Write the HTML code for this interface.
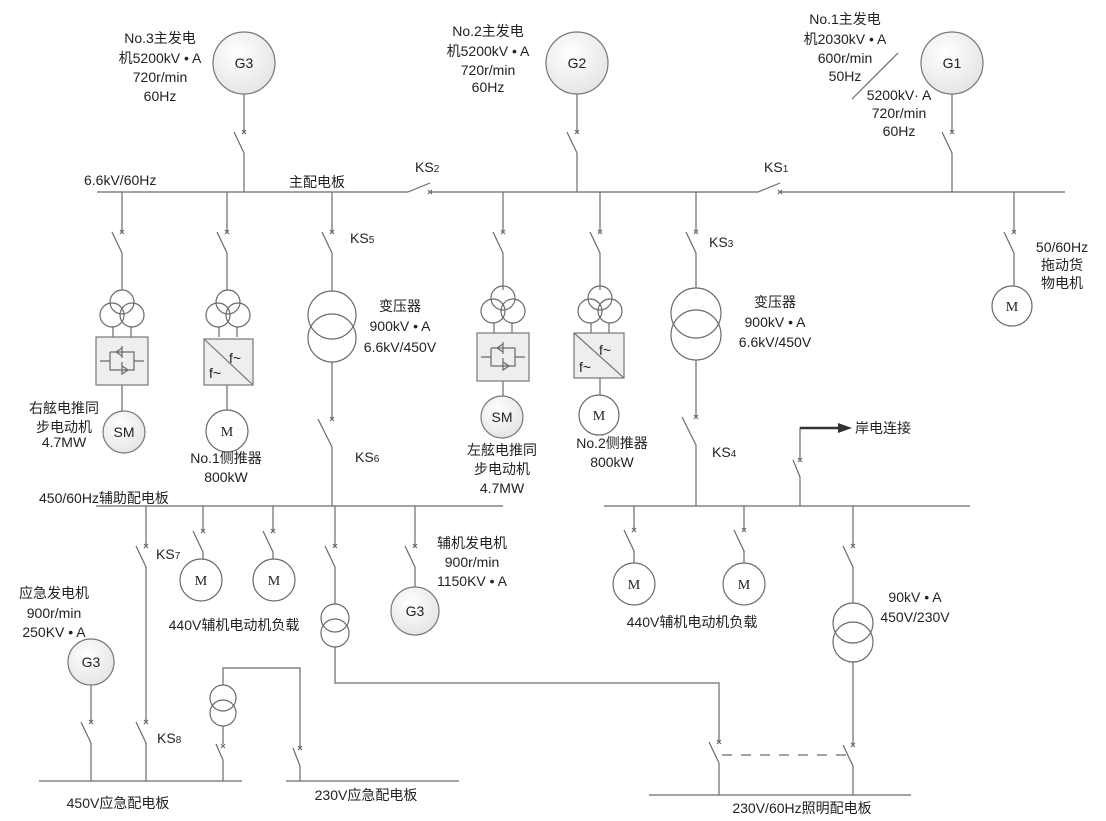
<!DOCTYPE html>
<html><head><meta charset="utf-8"><style>
html,body{margin:0;padding:0;background:#fff;}
svg{display:block;}
text{font-family:"Liberation Sans","Noto Sans CJK SC",sans-serif;font-size:14px;fill:#222;}
.l{stroke:#6a6a6a;stroke-width:1.2;fill:none;}
</style></head><body>
<svg width="1106" height="821" viewBox="0 0 1106 821" xmlns="http://www.w3.org/2000/svg">
<defs>
<radialGradient id="gg" cx="0.4" cy="0.35" r="0.7"><stop offset="0" stop-color="#fff"/><stop offset="1" stop-color="#e4e4e4"/></radialGradient>
<g id="sw" class="l"><line x1="-10" y1="0" x2="0" y2="21"/><path d="M-2,-2L2,2M-2,2L2,-2"/></g>
<g id="swl" class="l"><line x1="-14" y1="0" x2="0" y2="28"/><path d="M-2,-2L2,2M-2,2L2,-2"/></g>
<g id="tri" class="l"><circle cx="0" cy="0" r="12"/><circle cx="-10" cy="13" r="12"/><circle cx="10" cy="13" r="12"/><line x1="-9" y1="25" x2="-9" y2="35"/><line x1="9" y1="25" x2="9" y2="35"/></g>
</defs>
<g class="l">
<line x1="97" y1="192" x2="408" y2="192"/><line x1="408" y1="192" x2="430" y2="183"/><path d="M428,190L432,194M428,194L432,190"/>
<line x1="430" y1="192" x2="758" y2="192"/><line x1="758" y1="192" x2="780" y2="183"/><path d="M778,190L782,194M778,194L782,190"/>
<line x1="780" y1="192" x2="1065" y2="192"/>
<line x1="244" y1="94" x2="244" y2="132"/><line x1="244" y1="153" x2="244" y2="192"/>
<line x1="577" y1="94" x2="577" y2="132"/><line x1="577" y1="153" x2="577" y2="192"/>
<line x1="952" y1="94" x2="952" y2="132"/><line x1="952" y1="153" x2="952" y2="192"/>
<line x1="898" y1="53" x2="852" y2="99"/>
<line x1="122" y1="192" x2="122" y2="232"/><line x1="122" y1="253" x2="122" y2="290"/><line x1="122" y1="385" x2="122" y2="411"/>
<line x1="227" y1="192" x2="227" y2="232"/><line x1="227" y1="253" x2="227" y2="290"/><line x1="227" y1="385" x2="227" y2="410"/>
<line x1="332" y1="192" x2="332" y2="232"/><line x1="332" y1="253" x2="332" y2="291"/><line x1="332" y1="362" x2="332" y2="419"/><line x1="332" y1="447" x2="332" y2="506"/>
<circle cx="332" cy="315" r="24"/><circle cx="332" cy="338" r="24"/>
<line x1="503" y1="192" x2="503" y2="232"/><line x1="503" y1="253" x2="503" y2="290"/><line x1="503" y1="381" x2="503" y2="396"/>
<line x1="600" y1="192" x2="600" y2="232"/><line x1="600" y1="253" x2="600" y2="290"/><line x1="600" y1="378" x2="600" y2="395"/>
<line x1="696" y1="192" x2="696" y2="232"/><line x1="696" y1="253" x2="696" y2="288"/><line x1="696" y1="360" x2="696" y2="417"/><line x1="696" y1="445" x2="696" y2="506"/>
<circle cx="696" cy="313" r="25"/><circle cx="696" cy="335" r="25"/>
<line x1="1014" y1="192" x2="1014" y2="232"/><line x1="1014" y1="253" x2="1014" y2="286"/>
<circle cx="1012" cy="306" r="20"/>
<line x1="96" y1="506" x2="503" y2="506"/>
<line x1="604" y1="506" x2="970" y2="506"/>
<line x1="146" y1="506" x2="146" y2="546"/><line x1="146" y1="567" x2="146" y2="722"/><line x1="146" y1="743" x2="146" y2="781"/>
<line x1="203" y1="506" x2="203" y2="531"/><line x1="203" y1="552" x2="203" y2="559"/><circle cx="201" cy="580" r="21"/>
<line x1="273" y1="506" x2="273" y2="531"/><line x1="273" y1="552" x2="273" y2="559"/><circle cx="274" cy="580" r="21"/>
<line x1="335" y1="506" x2="335" y2="546"/><line x1="335" y1="567" x2="335" y2="604"/>
<circle cx="335" cy="618" r="14"/><circle cx="335" cy="633" r="14"/>
<path d="M335,647V683H719V742"/><line x1="719" y1="763" x2="719" y2="795"/>
<line x1="415" y1="506" x2="415" y2="546"/><line x1="415" y1="567" x2="415" y2="587"/>
<line x1="91" y1="685" x2="91" y2="722"/><line x1="91" y1="743" x2="91" y2="781"/>
<line x1="39" y1="781" x2="242" y2="781"/>
<line x1="286" y1="781" x2="459" y2="781"/>
<line x1="223" y1="781" x2="223" y2="760"/><line x1="223" y1="744" x2="223" y2="726"/>
<circle cx="223" cy="698" r="13"/><circle cx="223" cy="713" r="13"/>
<path d="M223,685V668H300V748"/><line x1="300" y1="766" x2="300" y2="781"/>
<line x1="216" y1="744" x2="223" y2="760"/><line x1="293" y1="748" x2="300" y2="766"/>
<path d="M221,744L225,748M221,748L225,744M298,746L302,750M298,750L302,746"/>
<line x1="800" y1="506" x2="800" y2="477"/><line x1="793" y1="460" x2="800" y2="477"/><path d="M800,460V428H838"/>
<path d="M798,458L802,462M798,462L802,458"/>
<line x1="634" y1="506" x2="634" y2="530"/><line x1="634" y1="550" x2="634" y2="563"/><circle cx="634" cy="584" r="21"/>
<line x1="744" y1="506" x2="744" y2="530"/><line x1="744" y1="550" x2="744" y2="563"/><circle cx="744" cy="584" r="21"/>
<line x1="853" y1="506" x2="853" y2="546"/><line x1="853" y1="567" x2="853" y2="603"/>
<circle cx="853" cy="623" r="20"/><circle cx="853" cy="642" r="20"/>
<line x1="853" y1="662" x2="853" y2="745"/><line x1="853" y1="766" x2="853" y2="795"/>
<line x1="649" y1="795" x2="911" y2="795"/>
<line x1="722" y1="755" x2="847" y2="755" stroke-dasharray="10,9"/>
</g>
<path d="M838,423L852,428L838,433Z" fill="#333"/><line x1="800" y1="428" x2="840" y2="428" stroke="#333" stroke-width="2.5"/>
<use href="#sw" x="244" y="132"/><use href="#sw" x="577" y="132"/><use href="#sw" x="952" y="132"/>
<use href="#sw" x="122" y="232"/><use href="#sw" x="227" y="232"/><use href="#sw" x="332" y="232"/><use href="#sw" x="503" y="232"/><use href="#sw" x="600" y="232"/><use href="#sw" x="696" y="232"/><use href="#sw" x="1014" y="232"/>
<use href="#swl" x="332" y="419"/><use href="#swl" x="696" y="417"/>
<use href="#sw" x="146" y="546"/><use href="#sw" x="146" y="722"/><use href="#sw" x="203" y="531"/><use href="#sw" x="273" y="531"/><use href="#sw" x="335" y="546"/><use href="#sw" x="415" y="546"/>
<use href="#sw" x="91" y="722"/><use href="#sw" x="634" y="530"/><use href="#sw" x="744" y="530"/><use href="#sw" x="853" y="546"/><use href="#sw" x="853" y="745"/><use href="#sw" x="719" y="742"/>
<use href="#tri" x="122" y="302"/><use href="#tri" x="228" y="302"/><use href="#tri" x="503" y="298"/><use href="#tri" x="600" y="298"/>
<g stroke="#777" stroke-width="1.2">
<rect x="96" y="337" width="52" height="48" fill="#eeeeee"/>
<rect x="204" y="339" width="49" height="46" fill="#eeeeee"/>
<line x1="204" y1="339" x2="253" y2="385"/>
<rect x="477" y="333" width="52" height="48" fill="#eeeeee"/>
<rect x="574" y="333" width="50" height="45" fill="#eeeeee"/>
<line x1="574" y1="333" x2="624" y2="378"/>
</g>
<g class="l" stroke-width="1">
<path d="M100,361H110M110,352V370H134V352H110M134,361H144M116,352l6,-4v8zM128,370l-6,-4v8zM122,346v12M122,362v12"/>
<path d="M481,357H491M491,348V366H515V348H491M515,357H525M497,348l6,-4v8zM509,366l-6,-4v8zM503,342v12M503,358v12"/>
</g>
<text x="229" y="363" font-size="13">f~</text><text x="209" y="378" font-size="13">f~</text>
<text x="599" y="355" font-size="13">f~</text><text x="579" y="372" font-size="13">f~</text>
<g stroke="#777" stroke-width="1.2" fill="url(#gg)">
<circle cx="244" cy="63" r="31"/><circle cx="577" cy="63" r="31"/><circle cx="952" cy="63" r="31"/>
<circle cx="124" cy="432" r="21"/><circle cx="502" cy="417" r="21"/>
<circle cx="415" cy="611" r="24"/><circle cx="91" cy="662" r="23"/>
</g>
<g class="l"><circle cx="227" cy="431" r="21"/><circle cx="599" cy="415" r="20"/></g>
<g text-anchor="middle">
<text x="244" y="68">G3</text><text x="577" y="68">G2</text><text x="952" y="68">G1</text>
<text x="124" y="437">SM</text><text x="502" y="422">SM</text>
<text x="415" y="616">G3</text><text x="91" y="667">G3</text>
<g><text x="227" y="436" style="font-family:'Liberation Serif',serif">M</text><text x="599" y="420" style="font-family:'Liberation Serif',serif">M</text><text x="1012" y="311" style="font-family:'Liberation Serif',serif">M</text><text x="201" y="585" style="font-family:'Liberation Serif',serif">M</text><text x="274" y="585" style="font-family:'Liberation Serif',serif">M</text><text x="634" y="589" style="font-family:'Liberation Serif',serif">M</text><text x="744" y="589" style="font-family:'Liberation Serif',serif">M</text></g>
<text x="160" y="43">No.3主发电</text><text x="160" y="63">机5200kV • A</text><text x="160" y="82">720r/min</text><text x="160" y="101">60Hz</text>
<text x="488" y="36">No.2主发电</text><text x="488" y="56">机5200kV • A</text><text x="488" y="75">720r/min</text><text x="488" y="92">60Hz</text>
<text x="845" y="24">No.1主发电</text><text x="845" y="44">机2030kV • A</text><text x="845" y="63">600r/min</text><text x="845" y="81">50Hz</text>
<text x="899" y="100">5200kV· A</text><text x="899" y="118">720r/min</text><text x="899" y="136">60Hz</text>
<text x="400" y="311">变压器</text><text x="400" y="331">900kV • A</text><text x="400" y="352">6.6kV/450V</text>
<text x="775" y="307">变压器</text><text x="775" y="327">900kV • A</text><text x="775" y="347">6.6kV/450V</text>
<text x="1062" y="252">50/60Hz</text><text x="1062" y="270">拖动货</text><text x="1062" y="288">物电机</text>
<text x="64" y="413">右舷电推同</text><text x="64" y="432">步电动机</text><text x="64" y="447">4.7MW</text>
<text x="226" y="463">No.1侧推器</text><text x="226" y="482">800kW</text>
<text x="502" y="455">左舷电推同</text><text x="502" y="474">步电动机</text><text x="502" y="493">4.7MW</text>
<text x="612" y="448">No.2侧推器</text><text x="612" y="467">800kW</text>
<text x="472" y="548">辅机发电机</text><text x="472" y="567">900r/min</text><text x="472" y="586">1150KV • A</text>
<text x="54" y="598">应急发电机</text><text x="54" y="618">900r/min</text><text x="54" y="637">250KV • A</text>
<text x="234" y="630">440V辅机电动机负载</text><text x="692" y="627">440V辅机电动机负载</text>
<text x="915" y="602">90kV • A</text><text x="915" y="622">450V/230V</text>
<text x="118" y="808">450V应急配电板</text><text x="366" y="800">230V应急配电板</text>
<text x="802" y="813">230V/60Hz照明配电板</text>
</g>
<text x="84" y="185">6.6kV/60Hz</text><text x="289" y="187">主配电板</text>
<text x="39" y="503">450/60Hz辅助配电板</text>
<text x="855" y="433">岸电连接</text>
<text x="415" y="172">KS<tspan font-size="10">2</tspan></text>
<text x="764" y="172">KS<tspan font-size="10">1</tspan></text>
<text x="350" y="243">KS<tspan font-size="10">5</tspan></text>
<text x="709" y="247">KS<tspan font-size="10">3</tspan></text>
<text x="355" y="462">KS<tspan font-size="10">6</tspan></text>
<text x="712" y="457">KS<tspan font-size="10">4</tspan></text>
<text x="156" y="559">KS<tspan font-size="10">7</tspan></text>
<text x="157" y="743">KS<tspan font-size="10">8</tspan></text>
</svg>
</body></html>
